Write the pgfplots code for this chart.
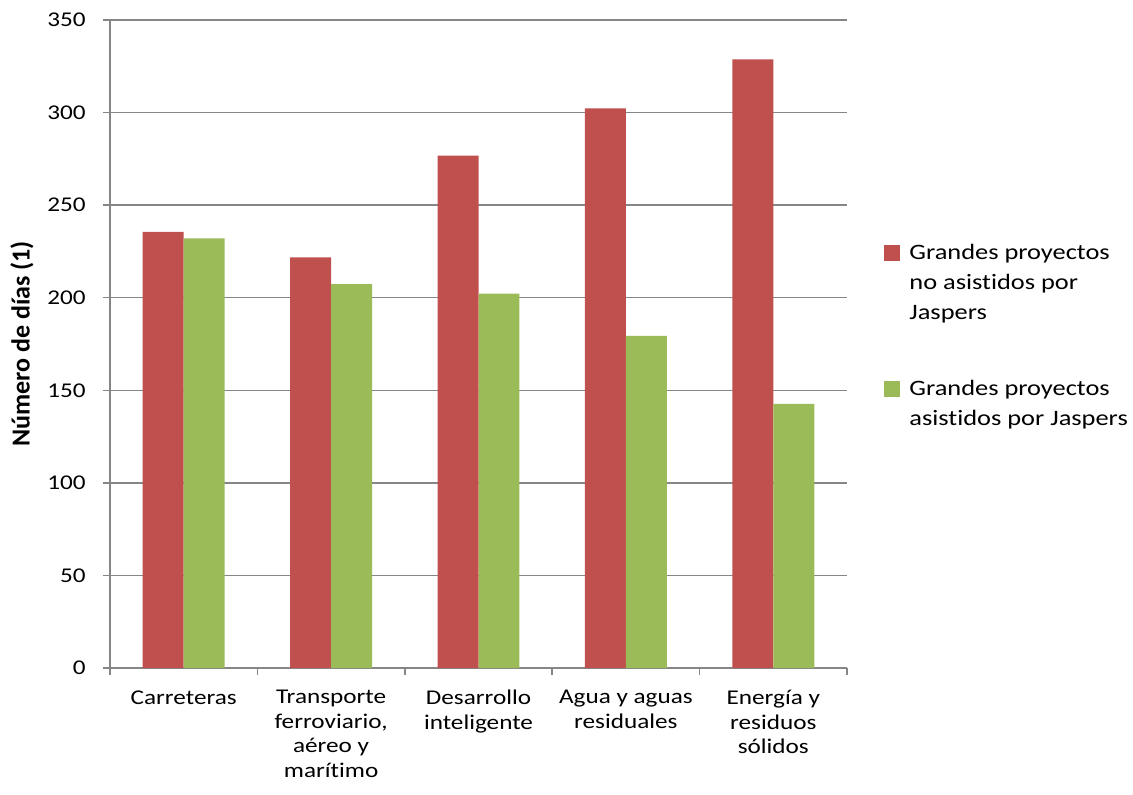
\documentclass[border=0pt]{standalone}
\usepackage{fontspec}
\setmainfont{Carlito}[FakeStretch=1.2, RawFeature=-liga]
\newfontfamily\ylabfont{Carlito}[RawFeature=-liga]
\usepackage{pgfplots}
\pgfplotsset{compat=1.18}
\definecolor{cred}{HTML}{C0504D}
\definecolor{cgreen}{HTML}{9BBB59}
\definecolor{cgrid}{HTML}{868686}
\begin{document}
\begin{tikzpicture}
\useasboundingbox (-55pt,-63pt) rectangle (511.5pt,334pt);
\begin{axis}[
  at={(0,0)}, anchor=south west, scale only axis,
  width=368.5pt, height=324pt,
  ybar, bar width=0.278,
  xmin=-0.5, xmax=4.5, ymin=0, ymax=350,
  ytick={0,50,...,350},
  xtick={0,1,2,3,4},
  xticklabels={Carreteras, {Transporte\\ferroviario,\\aéreo y\\marítimo}, {Desarrollo\\inteligente}, {Agua y aguas\\residuales}, {Energía y\\residuos\\sólidos}},
  minor xtick={-0.5,0.5,1.5,2.5,3.5,4.5},
  axis lines*=left,
  axis line style={draw=cgrid, line width=0.75pt, -},
  ymajorgrids, grid style={draw=cgrid, line width=0.75pt},
  tick align=outside, major tick length=3.5pt, minor tick length=3.5pt,
  major x tick style={draw=none},
  minor x tick style={draw=cgrid, line width=0.75pt},
  y tick style={draw=cgrid, line width=0.75pt},
  /pgf/number format/assume math mode=true,
  ticklabel style={font=\fontsize{10.5}{12.25}\selectfont},
  yticklabel style={inner sep=0pt, xshift=-8.5pt},
  xticklabel style={align=center, inner sep=0pt, yshift=-7.5pt},
  ylabel={\ylabfont\bfseries Número de días (1)},
  ylabel style={at={(axis description cs:-0.1194,0.5)}, anchor=center, font=\fontsize{13}{15}\selectfont},
  legend style={draw=none, fill=none, at={(1,0.512)}, anchor=west, xshift=18.5pt,
    font=\fontsize{11}{15}\selectfont, cells={anchor=west, align=left}, row sep=25pt, inner sep=0pt, column sep=2.5pt},
]
\addplot[fill=cred, draw=none, bar shift=-0.139,
  legend image code/.code={\fill[cred] (0pt,11pt) rectangle (8pt,19pt);}]
  coordinates {(0,235.5) (1,221.8) (2,276.8) (3,302.3) (4,328.7)};
\addlegendentry{Grandes proyectos\\no asistidos por\\Jaspers}
\addplot[fill=cgreen, draw=none, bar shift=0.139,
  legend image code/.code={\fill[cgreen] (0pt,3.5pt) rectangle (8pt,11.5pt);}]
  coordinates {(0,232.0) (1,207.3) (2,202.2) (3,179.4) (4,142.6)};
\addlegendentry{Grandes proyectos\\asistidos por Jaspers}
\end{axis}
\end{tikzpicture}
\end{document}
